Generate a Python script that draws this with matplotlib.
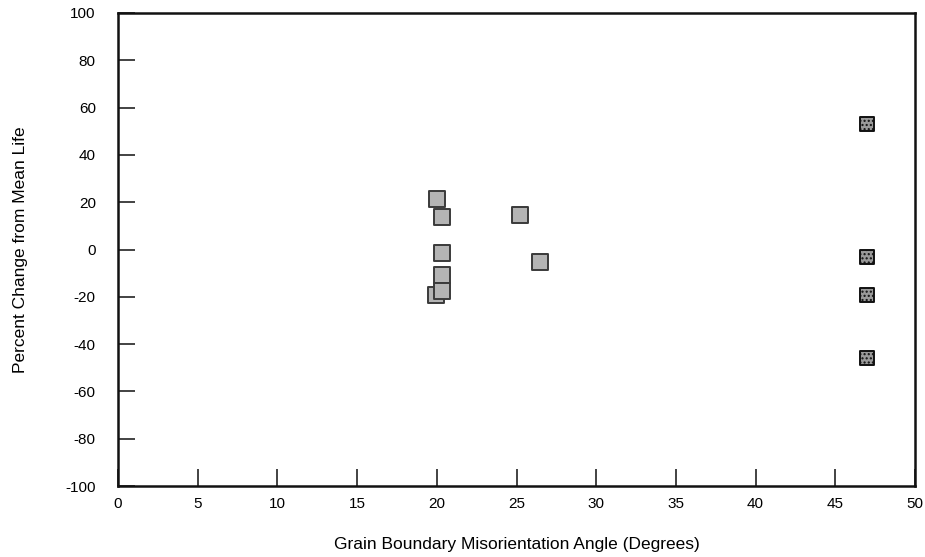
import matplotlib
matplotlib.use("Agg")
import matplotlib.pyplot as plt

plt.rcParams["font.family"] = "Liberation Sans"
plt.rcParams["axes.unicode_minus"] = False

# grain boundary misorientation angle (deg) vs percent change from mean life
x_low = [19.95, 20.0, 20.3, 20.3, 20.3, 20.3, 25.2, 26.5]
y_low = [-19.1, 21.3, 13.6, -1.3, -10.6, -17.4, 14.5, -5.1]
x_high = [47.0, 47.0, 47.0, 47.0]
y_high = [53.2, -3.0, -19.1, -46.0]

xticks = [0, 5, 10, 15, 20, 25, 30, 35, 40, 45, 50]
yticks = [-100, -80, -60, -40, -20, 0, 20, 40, 60, 80, 100]

fig = plt.figure(figsize=(9.25, 5.57), dpi=100)
ax = fig.add_axes([118 / 925, 1 - 486 / 557, (915 - 118) / 925, (486 - 13) / 557])

ax.scatter(x_low, y_low, marker="s", s=130, facecolor="#b4b4b4",
           edgecolor="#3a3a3a", linewidth=1.4, zorder=3)
ax.scatter(x_high, y_high, marker="s", s=100, facecolor="#9a9a9a",
           edgecolor="#111111", linewidth=1.4, hatch="....", zorder=3)

ax.set_xlim(0, 50)
ax.set_ylim(-100, 100)
ax.set_xticks(xticks)
ax.set_yticks(yticks)
ax.tick_params(direction="in", length=12, width=1.2, labelsize=11, color="#222222")
ax.tick_params(axis="x", pad=8)
ax.tick_params(axis="y", pad=16)
for s in ax.spines.values():
    s.set_linewidth(1.8)
    s.set_color("#111111")

ax.set_xlabel("Grain Boundary Misorientation Angle (Degrees)", fontsize=12.5, labelpad=19)
ax.set_ylabel("Percent Change from Mean Life", fontsize=12.5, labelpad=27)

fig.savefig("out.png", dpi=100)
